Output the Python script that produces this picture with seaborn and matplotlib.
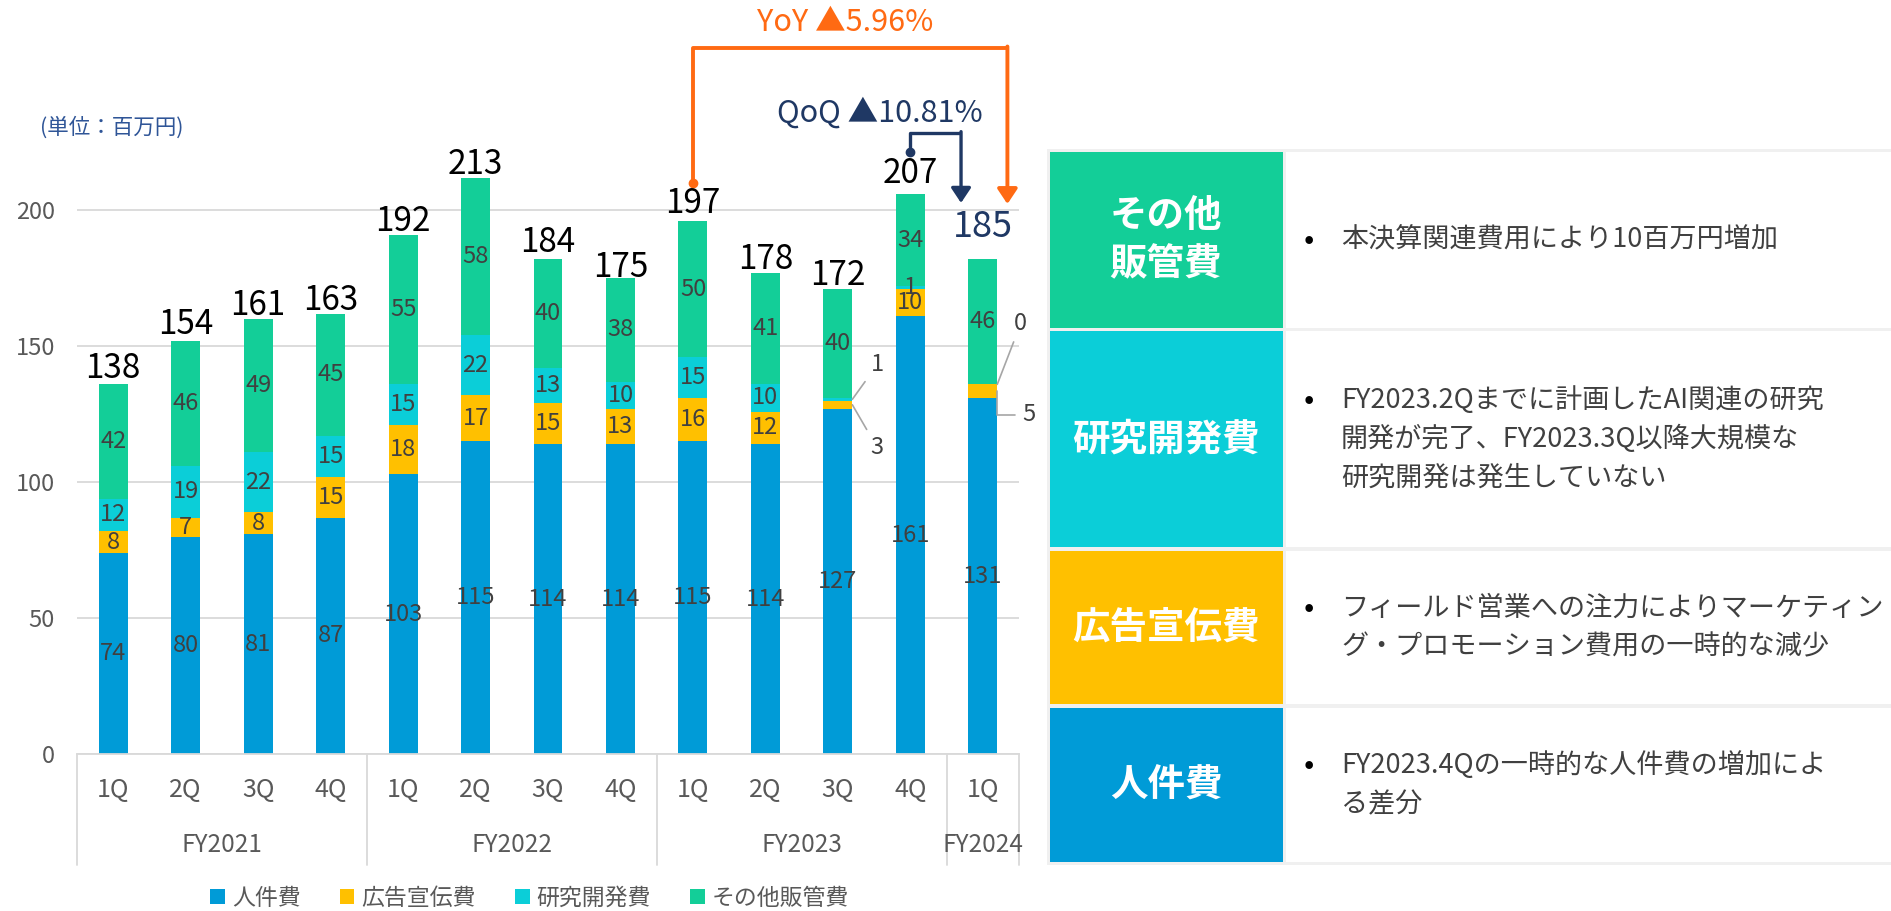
import numpy as np
import pandas as pd
import matplotlib
matplotlib.use('Agg')
import matplotlib.pyplot as plt
import seaborn as sns
from matplotlib.patches import Rectangle, Patch
from matplotlib.lines import Line2D

sns.set_theme(style="white")
plt.rcParams['font.family'] = ['Noto Sans CJK JP', 'DejaVu Sans']

# --- data ---
quarters = ["1Q", "2Q", "3Q", "4Q"] * 3 + ["1Q"]
years = ["FY2021", "FY2022", "FY2023", "FY2024"]
year_spans = [4, 4, 4, 1]
personnel = [74, 80, 81, 87, 103, 115, 114, 114, 115, 114, 127, 161, 131]
advert = [8, 7, 8, 15, 18, 17, 15, 13, 16, 12, 3, 10, 5]
rnd = [12, 19, 22, 15, 15, 22, 13, 10, 15, 10, 1, 1, 0]
other_sga = [42, 46, 49, 45, 55, 58, 40, 38, 50, 41, 40, 34, 46]
totals = [138, 154, 161, 163, 192, 213, 184, 175, 197, 178, 172, 207, 185]
series_names = ["人件費", "広告宣伝費", "研究開発費", "その他販管費"]
colors = ["#009BD7", "#FFC000", "#0BCED8", "#13CE98"]
yoy_text = "YoY ▲5.96%"
qoq_text = "QoQ ▲10.81%"

box_titles = ["その他\n販管費", "研究開発費", "広告宣伝費", "人件費"]
box_colors = [colors[3], colors[2], colors[1], colors[0]]
box_notes = [
    ["本決算関連費用により10百万円増加"],
    ["FY2023.2Qまでに計画したAI関連の研究", "開発が完了、FY2023.3Q以降大規模な", "研究開発は発生していない"],
    ["フィールド営業への注力によりマーケティン", "グ・プロモーション費用の一時的な減少"],
    ["FY2023.4Qの一時的な人件費の増加によ", "る差分"],
]

ORANGE = "#FF6A13"
NAVY = "#1F3864"
GREY = "#595959"
LABEL = "#404040"

df = pd.DataFrame({
    "period": [f"{y} {q}" for y, q in zip(np.repeat(years, year_spans), quarters)],
    "人件費": personnel, "広告宣伝費": advert, "研究開発費": rnd, "その他販管費": other_sga,
})
stack = df[series_names].cumsum(axis=1)

fig = plt.figure(figsize=(18.91, 9.11), dpi=100)
ax = fig.add_axes([77 / 1891, 156.7 / 911, 942 / 1891, 754.3 / 911])

# stacked bars: draw tallest cumulative first, overdraw the smaller ones
for k in range(3, -1, -1):
    sns.barplot(data=df, x="period", y=stack[series_names[k]], color=colors[k],
                saturation=1, width=0.4, ax=ax, linewidth=0)

ax.set_xlim(-0.5, 12.5)
ax.set_ylim(0, 277.3)
ax.set_yticks([0, 50, 100, 150, 200])
ax.set_xlabel("")
ax.set_ylabel("")
ax.grid(axis="y", color="#D9D9D9", lw=1.3)
ax.set_axisbelow(True)
for s in ["top", "right", "left"]:
    ax.spines[s].set_visible(False)
ax.spines["bottom"].set_color("#D9D9D9")
ax.spines["bottom"].set_linewidth(1.3)
ax.tick_params(axis="y", length=0, pad=16, labelsize=17, labelcolor=GREY)
ax.set_xticks(range(len(quarters)))
ax.set_xticklabels([])
ax.tick_params(axis="x", length=0)

# two-level category axis
xt = ax.get_xaxis_transform()
for i, q in enumerate(quarters):
    ax.text(i, -0.047, q, transform=xt, ha="center", va="center", fontsize=18, color=GREY)
edges = np.concatenate([[0], np.cumsum(year_spans)]) - 0.5
for j, y in enumerate(years):
    ax.text((edges[j] + edges[j + 1]) / 2, -0.12, y, transform=xt, ha="center",
            va="center", fontsize=17.5, color=GREY)
for e in edges:
    ax.add_line(Line2D([e, e], [0, -0.147], transform=xt, color="#D9D9D9",
                       lw=1.3, clip_on=False))

# segment labels
outside = {(10, 2): (18, 25), (10, 1): (18, -31), (12, 2): (17, 44), (12, 1): (23, -17)}
for i in range(len(df)):
    for k, name in enumerate(series_names):
        v = df[name][i]
        mid = stack[name][i] - v / 2
        if (i, k) in outside:
            dx, dy = outside[(i, k)]
            cs = "angle,angleA=0,angleB=90,rad=0" if (i, k) == (12, 1) else "arc3"
            ax.annotate(str(v), xy=(i + 0.2, mid), xytext=(dx, dy), textcoords="offset points",
                        ha="center", va="center", fontsize=17, color=LABEL,
                        arrowprops=dict(arrowstyle="-", color="#A6A6A6", lw=1.2,
                                        shrinkA=3, shrinkB=0, connectionstyle=cs))
        else:
            ax.text(i, mid, str(v), ha="center", va="center", fontsize=17, color=LABEL)

# totals
for i, t in enumerate(totals):
    if i == len(totals) - 1:
        ax.text(i, t + 5, str(t), ha="center", va="baseline", fontsize=26, color=NAVY)
    else:
        off = 3 if i == 11 else (2 if i == 8 else 0.5)
        ax.text(i, t + off, str(t), ha="center", va="baseline", fontsize=24, color="black")

# YoY bracket
ax.plot([8, 8, 12.34], [210, 259.7, 259.7], color=ORANGE, lw=2.8, solid_capstyle="butt")
ax.plot(8, 210, "o", color=ORANGE, ms=6)
ax.annotate("", xy=(12.34, 202.3), xytext=(12.34, 259.7 + 0.5),
            arrowprops=dict(arrowstyle="-|>,head_length=0.6,head_width=0.4", color=ORANGE,
                            lw=2.8, mutation_scale=15, shrinkA=0, shrinkB=0))
ax.text(10.1, 268.9, yoy_text, ha="center", va="center", fontsize=22, color=ORANGE)

# QoQ bracket
ax.plot([11, 11, 11.7], [221.4, 228.4, 228.4], color=NAVY, lw=2.4, solid_capstyle="butt")
ax.plot(11, 221.4, "o", color=NAVY, ms=6)
ax.annotate("", xy=(11.7, 202.7), xytext=(11.7, 228.4 + 0.5),
            arrowprops=dict(arrowstyle="-|>,head_length=0.6,head_width=0.4", color=NAVY,
                            lw=2.4, mutation_scale=15, shrinkA=0, shrinkB=0))
ax.text(10.58, 235.8, qoq_text, ha="center", va="center", fontsize=22, color=NAVY)

fig.text(40 / 1891, 1 - 128 / 911, "(単位：百万円)", ha="left", va="center",
         fontsize=15.5, color="#2F5597")

handles = [Patch(facecolor=c, edgecolor="none") for c in colors]
fig.legend(handles, series_names, loc="center", bbox_to_anchor=(0.28, 0.014), ncol=4,
           frameon=False, fontsize=16.5, handlelength=0.65, handleheight=0.65,
           handletextpad=0.3, columnspacing=1.7, labelcolor=GREY)

# right-hand table (pixel coordinates)
tab = fig.add_axes([0, 0, 1, 1], facecolor="none")
tab.set_xlim(0, 1891)
tab.set_ylim(911, 0)
tab.axis("off")
tab.add_patch(Rectangle((1047, 149), 1891 - 1047, 865 - 149, color="#F0F0F0", lw=0))
rows = [(152, 328), (331, 547), (551, 704), (708, 862)]
for (y0, y1), title, c, notes in zip(rows, box_titles, box_colors, box_notes):
    tab.add_patch(Rectangle((1050, y0), 1283 - 1050, y1 - y0, color=c, lw=0))
    tab.add_patch(Rectangle((1286, y0), 1891 - 1286, y1 - y0, color="white", lw=0))
    yc = (y0 + y1) / 2
    tab.text(1166, yc, title, ha="center", va="center", fontsize=27, fontweight="bold",
             color="white", linespacing=1.3)
    n = len(notes)
    for m, line in enumerate(notes):
        yy = yc + (m - (n - 1) / 2) * 39
        if m == 0:
            tab.text(1309, yy, "•", ha="center", va="center", fontsize=22, color="black")
        tab.text(1341, yy, line, ha="left", va="center", fontsize=19.5, color=LABEL)

fig.savefig("out.png", dpi=100)
